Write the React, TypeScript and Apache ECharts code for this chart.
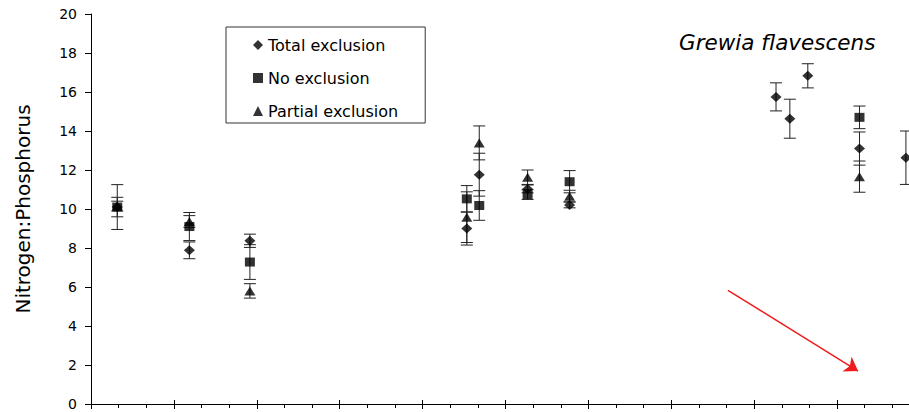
import React, { useEffect, useRef } from "react";
import * as echarts from "echarts";

// Data (x in axis units, y = N:P ratio, err = half-length of error bar)
const totalX = [0.95, 3.56, 5.75, 13.6, 14.05, 15.8, 17.32, 24.79, 25.29, 25.94, 27.81, 29.49];
const totalY = [10.1, 7.88, 8.37, 9.0, 11.76, 11.03, 10.21, 15.75, 14.63, 16.83, 13.1, 12.63];
const totalErr = [0.5, 0.43, 0.34, 0.85, 1.1, 0.2, 0.15, 0.72, 1.0, 0.62, 0.85, 1.37];

const noX = [0.95, 3.56, 5.75, 13.6, 14.05, 15.8, 17.32, 27.81];
const noY = [10.1, 9.1, 7.28, 10.52, 10.18, 10.74, 11.4, 14.7];
const noErr = [1.15, 0.72, 0.89, 0.68, 0.76, 0.25, 0.57, 0.58];

const partX = [0.95, 3.56, 5.75, 13.6, 14.05, 15.8, 17.32, 27.81];
const partY = [10.15, 9.36, 5.8, 9.58, 13.39, 11.63, 10.66, 11.66];
const partErr = [0.25, 0.3, 0.37, 1.3, 0.87, 0.37, 0.3, 0.8];

const seriesNames = ["Total exclusion", "No exclusion", "Partial exclusion"];
const speciesLabel = "Grewia flavescens";
const yAxisName = "Nitrogen:Phosphorus";

// Arrow annotation (data coordinates)
const arrowStart = [23.05, 5.83];
const arrowEnd = [27.76, 1.69];

const FONT = "DejaVu Sans";

function pts(xs: number[], ys: number[]) {
  return xs.map((x, i) => [x, ys[i]]);
}
function errs(xs: number[], ys: number[], es: number[]) {
  return xs.map((x, i) => [x, ys[i] - es[i], ys[i] + es[i]]);
}

function errorSeries(data: number[][]) {
  return {
    type: "custom",
    z: 1,
    silent: true,
    data,
    encode: { x: 0, y: [1, 2] },
    renderItem: (params: any, api: any) => {
      const x = api.value(0);
      const lo = api.coord([x, api.value(1)]);
      const hi = api.coord([x, api.value(2)]);
      const w = 6;
      const style = { stroke: "#222", lineWidth: 1 };
      return {
        type: "group",
        children: [
          { type: "line", shape: { x1: lo[0], y1: lo[1], x2: hi[0], y2: hi[1] }, style },
          { type: "line", shape: { x1: lo[0] - w, y1: lo[1], x2: lo[0] + w, y2: lo[1] }, style },
          { type: "line", shape: { x1: hi[0] - w, y1: hi[1], x2: hi[0] + w, y2: hi[1] }, style },
        ],
      };
    },
  };
}

export default function App() {
  const ref = useRef<HTMLDivElement>(null);
  useEffect(() => {
    if (!ref.current) return;
    const chart = echarts.init(ref.current, undefined, { renderer: "svg" });
    const xCommon = {
      type: "value",
      min: 0,
      max: 30,
      interval: 3,
      position: "bottom",
      axisLabel: { show: false },
      splitLine: { show: false },
    };
    chart.setOption({
      animation: false,
      backgroundColor: "#fff",
      grid: { left: 91, width: 829, top: 14, bottom: 8, outerBoundsMode: "none", containLabel: false },
      title: {
        text: speciesLabel,
        left: 679,
        top: 31,
        padding: 0,
        textStyle: { fontFamily: FONT, fontStyle: "italic", fontWeight: "normal", fontSize: 21.5, color: "#000" },
      },
      legend: {
        data: seriesNames,
        orient: "vertical",
        left: 226,
        top: 27,
        padding: [10, 27, 4, 27],
        itemGap: 17,
        itemWidth: 10,
        itemHeight: 10,
        borderColor: "#333",
        borderWidth: 1,
        textStyle: { fontFamily: FONT, fontSize: 16, color: "#000", lineHeight: 16 },
      },
      xAxis: [
        {
          ...xCommon,
          axisLine: { show: true, lineStyle: { color: "#000", width: 1 } },
          axisTick: { show: true, length: 5, lineStyle: { color: "#000" } },
          minorTick: { show: true, splitNumber: 3, length: 4, lineStyle: { color: "#000" } },
        },
        {
          ...xCommon,
          axisLine: { show: false },
          axisTick: { show: true, inside: true, length: 4, lineStyle: { color: "#000" } },
        },
      ],
      yAxis: {
        type: "value",
        min: 0,
        max: 20,
        interval: 2,
        name: yAxisName,
        nameLocation: "middle",
        nameGap: 58,
        nameTextStyle: { fontFamily: FONT, fontSize: 20, color: "#000" },
        axisLine: { show: true, lineStyle: { color: "#000", width: 1 } },
        axisTick: { show: true, length: 6, lineStyle: { color: "#000" } },
        axisLabel: { fontFamily: FONT, fontSize: 14, color: "#000", margin: 14 },
        splitLine: { show: false },
      },
      series: [
        errorSeries(errs(totalX, totalY, totalErr)),
        errorSeries(errs(noX, noY, noErr)),
        errorSeries(errs(partX, partY, partErr)),
        {
          name: seriesNames[0],
          type: "scatter",
          z: 3,
          symbol: "diamond",
          symbolSize: [11, 10],
          itemStyle: { color: "#000" },
          data: pts(totalX, totalY),
          markLine: {
            silent: true,
            symbol: ["none", "arrow"],
            symbolSize: 13,
            label: { show: false },
            lineStyle: { color: "#ee1c1c", width: 1.5, type: "solid" },
            data: [[{ coord: arrowStart }, { coord: arrowEnd }]],
          },
        },
        {
          name: seriesNames[1],
          type: "scatter",
          z: 3,
          symbol: "rect",
          symbolSize: [10, 9],
          itemStyle: { color: "#000" },
          data: pts(noX, noY),
        },
        {
          name: seriesNames[2],
          type: "scatter",
          z: 3,
          symbol: "triangle",
          symbolSize: [11, 9],
          itemStyle: { color: "#000" },
          data: pts(partX, partY),
        },
      ],
    });
    return () => chart.dispose();
  }, []);
  return (
    <div
      ref={ref}
      style={{ position: "absolute", left: 0, top: 0, width: 909, height: 412 }}
    />
  );
}
